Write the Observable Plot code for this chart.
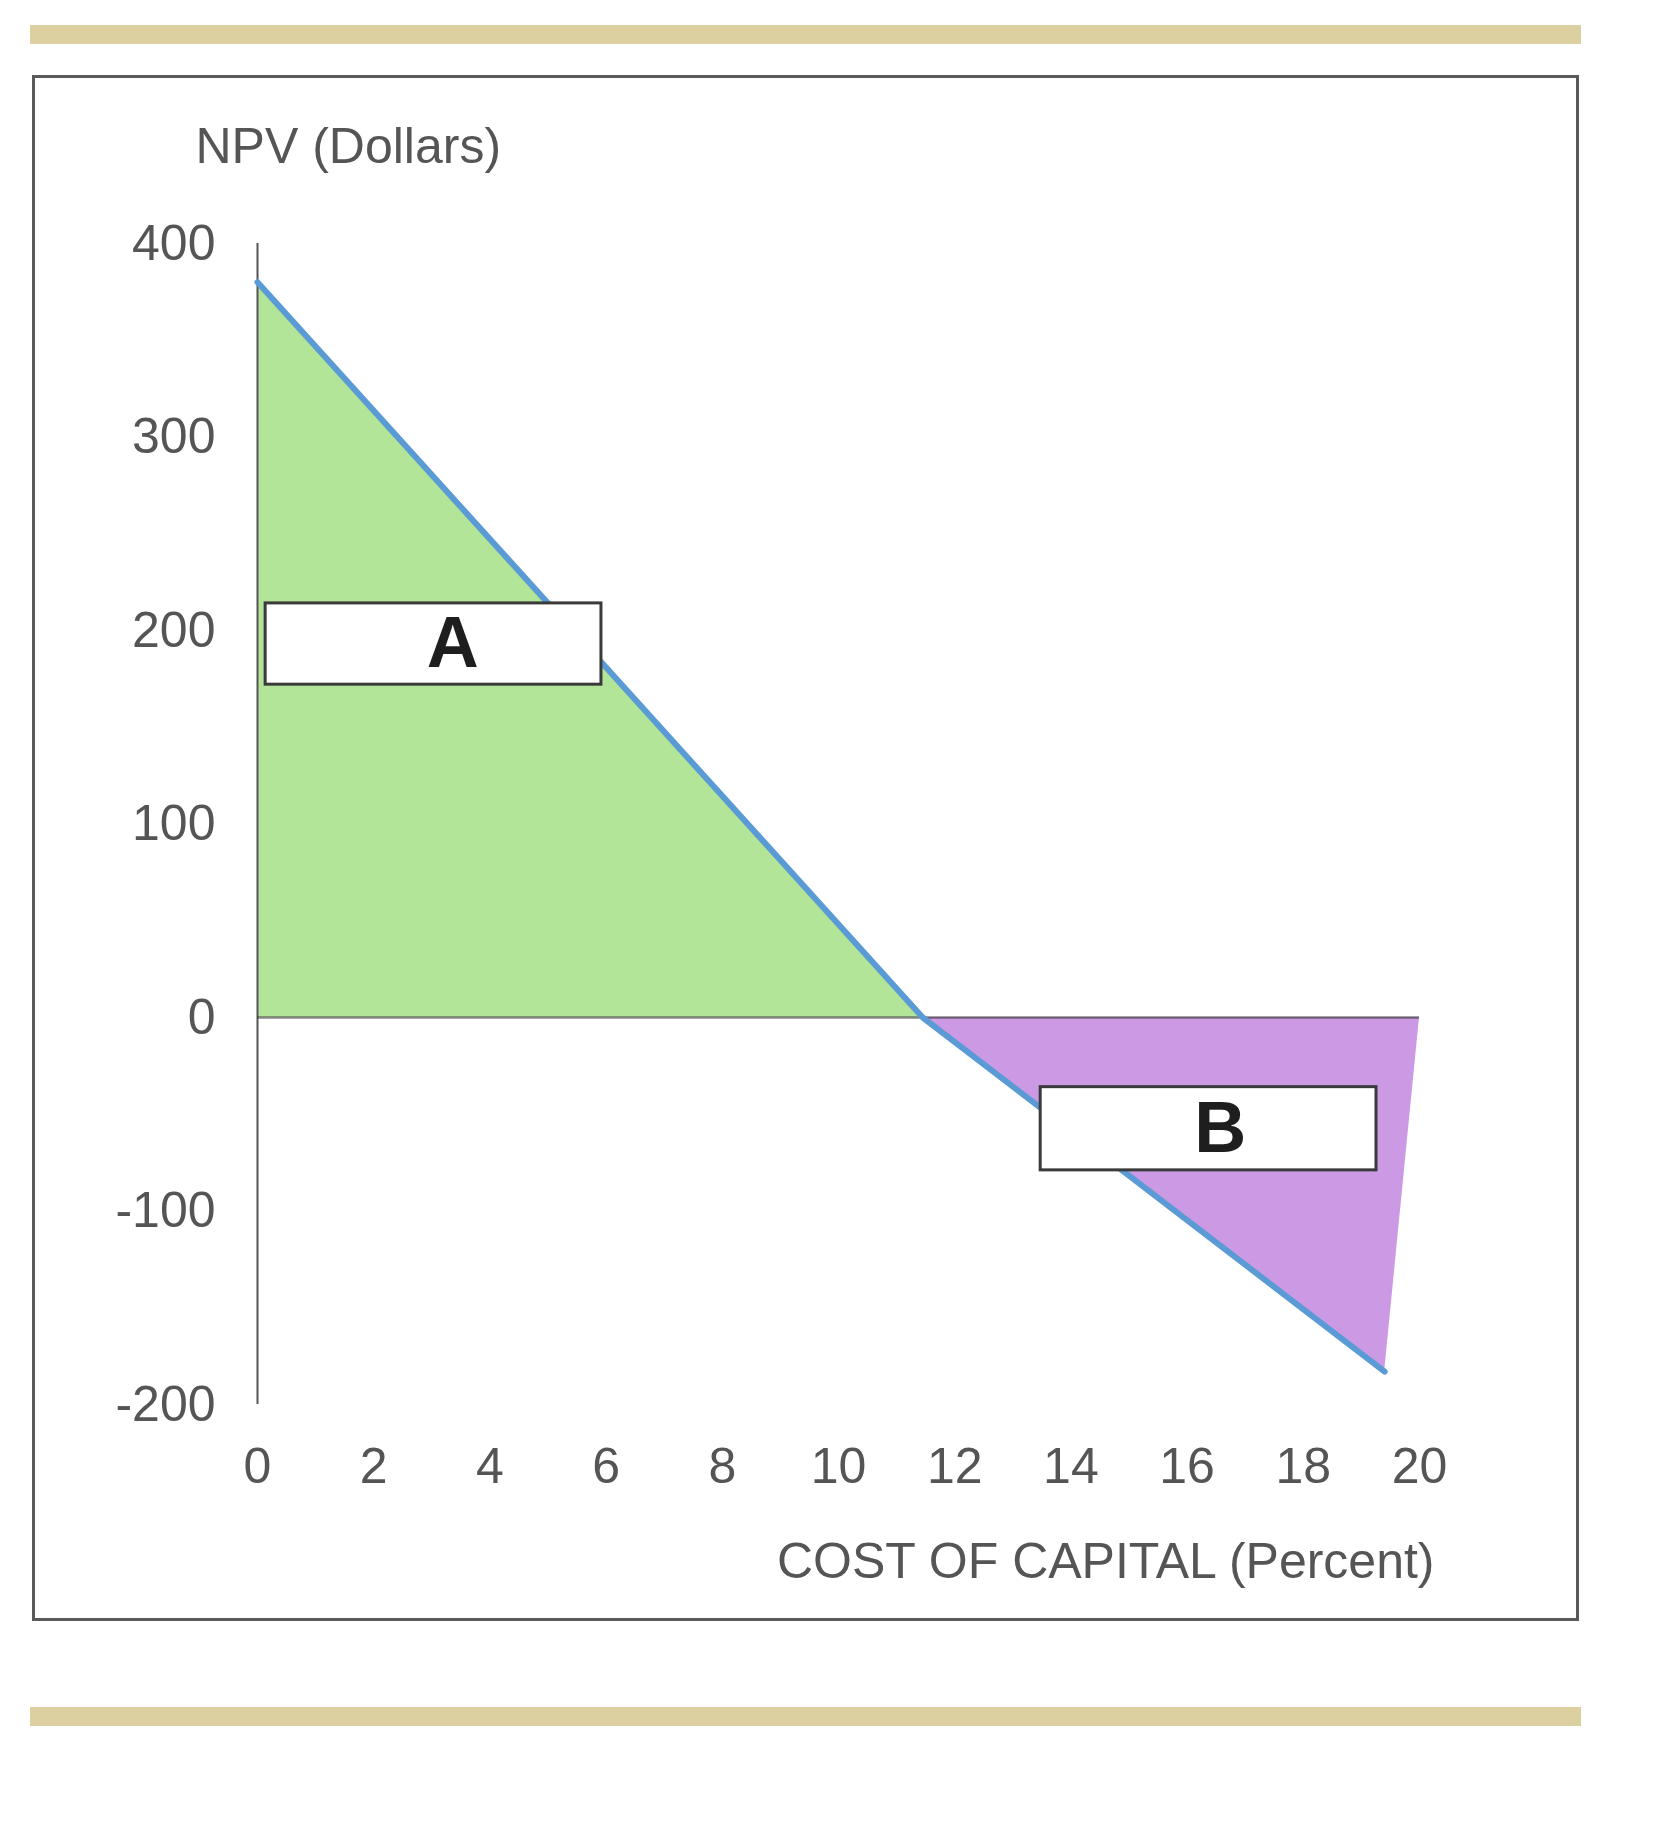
<!DOCTYPE html>
<html>
<head>
<meta charset="utf-8">
<script src="https://cdn.jsdelivr.net/npm/d3@7"></script>
<script src="https://cdn.jsdelivr.net/npm/@observablehq/plot@0.6"></script>
<style>
  html, body { margin: 0; padding: 0; background: #fff; }
  #page { position: relative; width: 1653px; height: 1827px; overflow: hidden; }
  .band { position: absolute; left: 30px; width: 1551px; height: 19px; background: #dccfa0; }
  #box { position: absolute; left: 32px; top: 75px; width: 1547px; height: 1546px; box-sizing: border-box; border: 3px solid #5a5a5a; }
  #chart { position: absolute; left: 0; top: 0; }
</style>
</head>
<body>
<div id="page">
  <div class="band" style="top:25px"></div>
  <div id="box"></div>
  <div class="band" style="top:1707px"></div>
  <div id="chart"></div>
</div>
<script>
// NPV profile: cost of capital (percent) vs NPV (dollars)
const rate = [0, 11.45, 19.4];
const npv = [380, 0, -183];

// Shaded regions
const regionARate = [0, 11.45];
const regionANpv = [380, 0];
const regionBRate = [11.45, 19.4, 20];
const regionBNpv = [0, -183, 0];

// Region labels (boxes in data units)
const labels = ["A", "B"];
const labelRate = [3.36, 16.57];
const labelNpv = [193, -57.5];
const boxX1 = [0.14, 13.48];
const boxX2 = [5.92, 19.26];
const boxY1 = [172, -79];
const boxY2 = [214, -36];

const xTicks = [0, 2, 4, 6, 8, 10, 12, 14, 16, 18, 20];
const yTicks = [-200, -100, 0, 100, 200, 300, 400];

const lineData = rate.map((r, i) => ({x: r, y: npv[i]}));
const aData = regionARate.map((r, i) => ({x: r, y: regionANpv[i]}));
const bData = regionBRate.map((r, i) => ({x: r, y: regionBNpv[i]}));
const labelData = labels.map((l, i) => ({
  label: l, x: labelRate[i], y: labelNpv[i],
  x1: boxX1[i], x2: boxX2[i], y1: boxY1[i], y2: boxY2[i]
}));

const font = "'Liberation Sans', Arial, sans-serif";

const chart = Plot.plot({
  width: 1653,
  height: 1827,
  marginLeft: 257,
  marginRight: 234,
  marginTop: 243,
  marginBottom: 423,
  style: { fontFamily: font, fontSize: "50px", background: "transparent", color: "#555" },
  x: { domain: [0, 20], ticks: xTicks },
  y: { domain: [-200, 400], ticks: yTicks },
  marks: [
    Plot.areaY(aData, { x: "x", y1: 0, y2: "y", fill: "#b2e597" }),
    Plot.areaY(bData, { x: "x", y1: 0, y2: "y", fill: "#cc99e5" }),
    Plot.ruleX([0], { y1: -200, y2: 400, stroke: "#555", strokeWidth: 2 }),
    Plot.ruleY([0], { x1: 0, x2: 20, stroke: "#333", strokeOpacity: 0.6, strokeWidth: 2.5 }),
    Plot.line(lineData, { x: "x", y: "y", stroke: "#5b9bd5", strokeWidth: 6 }),
    Plot.rect(labelData, { x1: "x1", x2: "x2", y1: "y1", y2: "y2", fill: "#fff", stroke: "#3a3a3a", strokeWidth: 3 }),
    Plot.text(labelData, { x: "x", y: "y", text: "label", fill: "#1e1e1e", fontSize: 72, fontWeight: "bold", fontFamily: font }),
    Plot.axisX({ ticks: xTicks, tickSize: 0, tickPadding: 43, fontSize: 50, fill: "#555", tickFormat: d => String(d), label: null }),
    Plot.axisY({ ticks: yTicks, tickSize: 0, tickPadding: 42, fontSize: 50, fill: "#555", tickFormat: d => String(d), label: null }),
    Plot.text(["NPV (Dollars)"], { frameAnchor: "top-left", dx: -62, dy: -81, textAnchor: "start", lineAnchor: "bottom", fontSize: 50, fill: "#555" }),
    Plot.text(["COST OF CAPITAL (Percent)"], { frameAnchor: "bottom-right", dx: 15, dy: 173, textAnchor: "end", lineAnchor: "bottom", fontSize: 50, fill: "#555" })
  ]
});
document.getElementById("chart").appendChild(chart);
</script>
</body>
</html>
